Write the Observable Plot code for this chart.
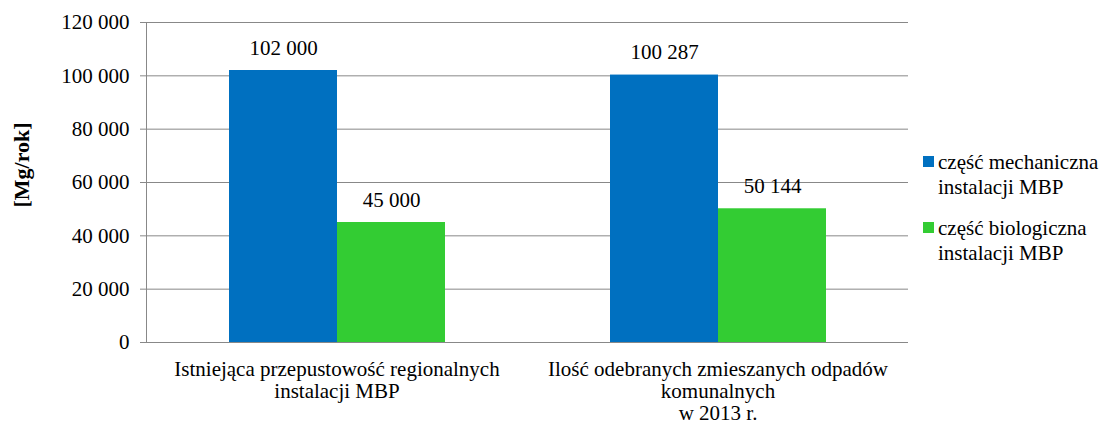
<!DOCTYPE html>
<html><head><meta charset="utf-8">
<script src="https://cdn.jsdelivr.net/npm/d3@7"></script>
<script src="https://cdn.jsdelivr.net/npm/@observablehq/plot@0.6"></script>
<style>
body{margin:0;background:#fff;}
#wrap{position:relative;width:1103px;height:425px;font-family:"Liberation Serif","Times New Roman",serif;color:#000;}
#ylab{position:absolute;left:22px;top:165px;transform:translate(-50%,-50%) rotate(-90deg);font-weight:bold;font-size:22px;white-space:nowrap;}
#legend{position:absolute;left:923px;top:150px;font-size:21px;line-height:25px;}
.item{display:flex;align-items:flex-start;margin-bottom:16px;}
.sw{width:11px;height:11px;margin-top:6px;margin-right:4px;flex:none;}
</style></head><body><div id="wrap"><div id="ylab">[Mg/rok]</div><div id="legend"></div></div>
<script>
const categories = ["Istniejąca przepustowość regionalnych\ninstalacji MBP", "Ilość odebranych zmieszanych odpadów\nkomunalnych\nw 2013 r."];
const seriesNames = ["część mechaniczna instalacji MBP", "część biologiczna instalacji MBP"];
const legendLines = [["część mechaniczna", "instalacji MBP"], ["część biologiczna", "instalacji MBP"]];
const mechaniczna = [102000, 100287];
const biologiczna = [45000, 50144];
const yTicks = [0, 20000, 40000, 60000, 80000, 100000, 120000];
const colors = ["#0070C0", "#33CC33"];

const data = categories.flatMap((c, i) => [
  {cat: c, series: seriesNames[0], value: mechaniczna[i]},
  {cat: c, series: seriesNames[1], value: biologiczna[i]}
]);
const fmt = d => d3.format(",")(d).replace(/,/g, "\u00a0");
const FONT = "'Liberation Serif','Times New Roman',serif";

const chart = Plot.plot({
  width: 1103, height: 425,
  marginLeft: 145, marginRight: 195, marginTop: 22, marginBottom: 83,
  style: {fontFamily: FONT, fontSize: "21px", color: "#000", background: "transparent"},
  fx: {domain: categories, padding: 0, axis: null, label: null},
  x: {domain: seriesNames, paddingInner: 0, paddingOuter: 0.76, axis: null},
  y: {domain: [0, 120000], axis: null, label: null},
  color: {domain: seriesNames, range: colors},
  marks: [
    Plot.ruleY(yTicks, {stroke: "#888", strokeWidth: 1}),
    Plot.frame({anchor: "left", facetAnchor: "left", stroke: "#888"}),
    Plot.barY(data, {fx: "cat", x: "series", y: "value", fill: "series"}),
    Plot.text(data, {fx: "cat", x: "series", y: "value", text: d => fmt(d.value), lineAnchor: "bottom", dy: -16, fill: "#000", fontFamily: FONT}),
    Plot.axisY({ticks: yTicks, tickFormat: fmt, tickSize: 6, tickPadding: 11, stroke: "#888", label: null, anchor: "left", fontFamily: FONT}),
    Plot.axisFx({anchor: "bottom", tickSize: 0, tickPadding: 18, label: null, lineHeight: 1.05, fontFamily: FONT})
  ]
});
chart.setAttribute("font-family", FONT);
document.getElementById("wrap").appendChild(chart);
chart.style.position = "absolute"; chart.style.left = "0"; chart.style.top = "0";

const lg = document.getElementById("legend");
legendLines.forEach((lines, i) => {
  const it = document.createElement("div"); it.className = "item";
  const sw = document.createElement("div"); sw.className = "sw"; sw.style.background = colors[i];
  const tx = document.createElement("div"); tx.innerHTML = lines.join("<br>");
  it.appendChild(sw); it.appendChild(tx); lg.appendChild(it);
});
</script></body></html>
